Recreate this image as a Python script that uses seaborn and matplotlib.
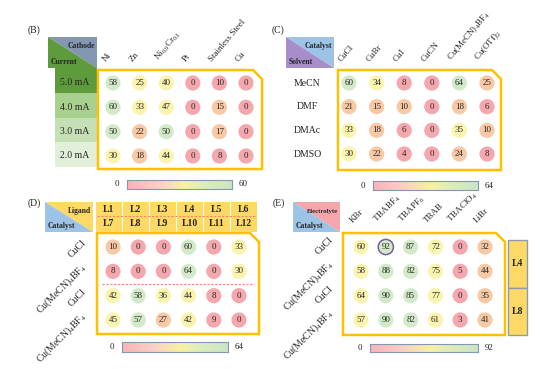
import numpy as np
import pandas as pd
import matplotlib
matplotlib.use("Agg")
import matplotlib.pyplot as plt
import matplotlib.transforms as mtransforms
import seaborn as sns
from matplotlib.colors import LinearSegmentedColormap
from matplotlib.patches import Polygon, Rectangle

# --- Daten ---
B_cols = ["Ni", "Zn", r"Ni$_{0.9}$Cr$_{0.1}$", "Pt", "Stainless Steel", "Cu"]
B_rows = ["5.0 mA", "4.0 mA", "3.0 mA", "2.0 mA"]
B_vals = [[58, 25, 40, 0, 10, 0],
          [60, 33, 47, 0, 15, 0],
          [50, 22, 50, 0, 17, 0],
          [30, 18, 44, 0, 8, 0]]
B_max = 60
B_bins = [11, 24, 49]

C_cols = ["CuCl", "CuBr", "CuI", "CuCN", r"Cu(MeCN)$_4$BF$_4$", r"Cu(OTf)$_2$"]
C_rows = ["MeCN", "DMF", "DMAc", "DMSO"]
C_vals = [[60, 34, 8, 0, 64, 25],
          [21, 15, 10, 0, 18, 6],
          [33, 18, 6, 0, 35, 10],
          [30, 22, 4, 0, 24, 8]]
C_max = 64
C_bins = [9, 28, 50]

D_lig_top = ["L1", "L2", "L3", "L4", "L5", "L6"]
D_lig_bot = ["L7", "L8", "L9", "L10", "L11", "L12"]
D_rows = ["CuCl", r"Cu(MeCN)$_4$BF$_4$", "CuCl", r"Cu(MeCN)$_4$BF$_4$"]
D_vals = [[10, 0, 0, 60, 0, 33],
          [8, 0, 0, 64, 0, 30],
          [42, 58, 36, 44, 8, 0],
          [45, 57, 27, 42, 9, 0]]
D_max = 64
D_bins = [9.5, 28, 50]

E_cols = ["KBr", r"TBABF$_4$", r"TBAPF$_6$", "TBAB", r"TBAClO$_4$", "LiBr"]
E_rows = ["CuCl", r"Cu(MeCN)$_4$BF$_4$", "CuCl", r"Cu(MeCN)$_4$BF$_4$"]
E_vals = [[60, 92, 87, 72, 0, 32],
          [58, 88, 82, 75, 5, 44],
          [64, 90, 85, 77, 0, 35],
          [57, 90, 82, 61, 3, 41]]
E_max = 92
E_bins = [20, 50, 80]
E_groups = ["L4", "L8"]

# --- Stil ---
LEVELS = ["low", "mid", "high", "top"]
LEVEL_COLORS = {"low": "#f5a7ae", "mid": "#f9c8a4", "high": "#fbf4ae", "top": "#d3eac9"}
CBAR = LinearSegmentedColormap.from_list(
    "cb", [(0, "#f9b3b9"), (0.3, "#fbcfc4"), (0.55, "#f8f1a3"), (0.75, "#dcecbd"), (1, "#cbe5c4")])
GOLD = "#ffc000"
TXT = "#262626"

sns.set_theme(style="white")
plt.rcParams["font.family"] = ["Liberation Serif", "DejaVu Serif"]
plt.rcParams["mathtext.default"] = "regular"

W, H = 540, 369
fig = plt.figure(figsize=(W / 100, H / 100), dpi=100)


def frac(x0, y0, x1, y1):
    return [x0 / W, 1 - y1 / H, (x1 - x0) / W, (y1 - y0) / H]


deco = fig.add_axes([0, 0, 1, 1], zorder=0)
deco.set_xlim(0, W)
deco.set_ylim(H, 0)
deco.axis("off")


def draw_grid(box, cols_px, rows_px, vals, bins, highlight=False):
    ax = fig.add_axes(frac(*box), zorder=2)
    arr = np.array(vals)
    nr, nc = arr.shape
    df = pd.DataFrame({
        "row": np.repeat(np.arange(nr), nc),
        "col": np.tile(np.arange(nc), nr),
        "val": arr.ravel(),
    })
    df["level"] = [LEVELS[i] for i in np.digitize(df["val"], bins)]
    sns.scatterplot(data=df, x="col", y="row", hue="level", hue_order=LEVELS,
                    palette=LEVEL_COLORS, s=120, edgecolor="none", legend=False,
                    ax=ax, clip_on=False)
    for r in df.itertuples():
        ax.text(r.col, r.row, f"{int(r.val)}", ha="center", va="center",
                fontsize=6.5, color=TXT)
    if highlight:
        # bestes Ergebnis umrandet
        best = df.loc[df["val"].idxmax()]
        ax.scatter([best["col"]], [best["row"]], s=120, facecolor="none",
                   edgecolor="#7a5aa6", linewidth=1.1, clip_on=False)
    dx = (cols_px[1] - cols_px[0]) / (nc - 1)
    dy = (rows_px[1] - rows_px[0]) / (nr - 1)
    ax.set_xlim((box[0] - cols_px[0]) / dx, (box[2] - cols_px[0]) / dx)
    ax.set_ylim((box[3] - rows_px[0]) / dy, (box[1] - rows_px[0]) / dy)
    # Rahmen mit abgeschnittener Ecke
    cx = 9 / (box[2] - box[0])
    cy = 9 / (box[3] - box[1])
    ax.add_patch(Polygon([(0, 0), (1, 0), (1, 1 - cy), (1 - cx, 1), (0, 1)], closed=True,
                         fill=False, edgecolor=GOLD, linewidth=1.8,
                         transform=ax.transAxes, clip_on=False))
    ax.axis("off")
    return ax


def col_labels(ax, labels, rot, off):
    for i, lab in enumerate(labels):
        ax.annotate(lab, xy=(i, 1), xycoords=("data", "axes fraction"), xytext=off,
                    textcoords="offset points", rotation=rot, rotation_mode="anchor",
                    ha="left", va="bottom", fontsize=6.5, color=TXT)


def row_labels(ax, labels, off, rot=0, ha="center"):
    for i, lab in enumerate(labels):
        ax.annotate(lab, xy=(0, i), xycoords=("axes fraction", "data"), xytext=off,
                    textcoords="offset points", rotation=rot, rotation_mode="anchor",
                    ha=ha, va="center", fontsize=7, color=TXT)


def header(box, c_up, c_low, t_up, t_low, fs_up=5.5):
    x0, y0, x1, y1 = box
    deco.add_patch(Polygon([(x0, y0), (x1, y0), (x1, y1)], color=c_up, lw=0))
    deco.add_patch(Polygon([(x0, y0), (x0, y1), (x1, y1)], color=c_low, lw=0))
    deco.text(x1 - 2, y0 + 9, t_up, ha="right", va="center", fontweight="bold",
              fontsize=fs_up, color=TXT)
    deco.text(x0 + 3, y1 - 6, t_low, ha="left", va="center", fontweight="bold",
              fontsize=5.5, color=TXT)


def cbar(rect, vmax):
    cax = fig.add_axes(frac(*rect), zorder=2)
    cax.imshow(np.linspace(0, vmax, 256)[None, :], aspect="auto", cmap=CBAR,
               extent=[0, vmax, 0, 1])
    cax.set_xticks([])
    cax.set_yticks([])
    for s in cax.spines.values():
        s.set_visible(True)
        s.set_color("#8497b0")
        s.set_linewidth(0.8)
    cax.annotate("0", xy=(0, 0.5), xycoords="axes fraction", xytext=(-6, 0),
                 textcoords="offset points", ha="right", va="center", fontsize=6.5, color=TXT)
    cax.annotate(str(vmax), xy=(1, 0.5), xycoords="axes fraction", xytext=(5, 0),
                 textcoords="offset points", ha="left", va="center", fontsize=6.5, color=TXT)


for lab, xy in [("(B)", (28, 30)), ("(C)", (272, 30)), ("(D)", (28, 203)), ("(E)", (273, 203))]:
    deco.text(*xy, lab, ha="left", va="center", fontsize=7, color=TXT)

# --- (B) Kathode vs. Strom ---
header((48, 37, 97, 68), "#8497b0", "#5e9b3c", "Cathode", "Current")
green_steps = ["#5e9b3c", "#a9d18e", "#c5e0b4", "#e2f0d9"]
for i, c in enumerate(green_steps):
    deco.add_patch(Rectangle((55, 68 + i * 24.8), 42, 24.8, color=c, lw=0))
axB = draw_grid((98, 70, 262, 169), (113, 246), (83, 156), B_vals, B_bins)
col_labels(axB, B_cols, 50, (-4, 5))
row_labels(axB, B_rows, (-17, 0))
cbar((127, 180, 232, 189), B_max)

# --- (C) Katalysator vs. Lösungsmittel ---
header((286, 37, 334, 68), "#9dc3e6", "#a78dca", "Catalyst", "Solvent")
axC = draw_grid((338, 70, 501, 170), (349, 487), (83, 154), C_vals, C_bins)
col_labels(axC, C_cols, 50, (-4, 5))
row_labels(axC, C_rows, (-22, 0))
cbar((373, 181, 478, 190), C_max)

# --- (D) Ligand vs. Katalysator ---
header((45, 202, 93, 232), "#ffd966", "#9dc3e6", "Ligand", "Catalyst")
axD = draw_grid((97, 233, 259, 334), (113, 239), (247, 320), D_vals, D_bins)
row_labels(axD, D_rows, (-9, 4), rot=45, ha="right")
n = len(D_lig_top)
for i in range(n):
    x0 = (i + 0.02) / n - 0.01
    axD.add_patch(Rectangle((x0, 1.012), 0.96 / n, 0.295, color="#ffd966", lw=0,
                            transform=axD.transAxes, clip_on=False))
    axD.text((i + 0.5) / n - 0.01, 1.235, D_lig_top[i], transform=axD.transAxes,
             ha="center", va="center", fontsize=7, fontweight="bold", color=TXT)
    axD.text((i + 0.5) / n - 0.01, 1.09, D_lig_bot[i], transform=axD.transAxes,
             ha="center", va="center", fontsize=7, fontweight="bold", color=TXT)
axD.plot([0.0, 0.98], [1.165, 1.165], transform=axD.transAxes, color="#f0866a",
         lw=0.8, ls=(0, (2, 1.5)), clip_on=False)
mid = len(D_rows) / 2 - 0.5
bt = mtransforms.blended_transform_factory(axD.transAxes, axD.transData)
axD.plot([0.03, 0.97], [mid, mid], transform=bt, color="#f0866a", lw=0.8,
         ls=(0, (2, 1.5)), clip_on=False)
cbar((122, 342, 228, 352), D_max)

# --- (E) Elektrolyt vs. Katalysator ---
header((293, 202, 340, 232), "#f4a6ab", "#9dc3e6", "Electrolyte", "Catalyst", fs_up=4.8)
axE = draw_grid((343, 233, 505, 335), (361, 485), (247, 320), E_vals, E_bins, highlight=True)
col_labels(axE, E_cols, 45, (-5, 6))
row_labels(axE, E_rows, (-8, 6), rot=45, ha="right")
bt = mtransforms.blended_transform_factory(axE.transAxes, axE.transData)
for g, lab in enumerate(E_groups):
    y0 = -0.28 + 1.95 * g
    axE.add_patch(Rectangle((1.02, y0), 0.118, 1.95, facecolor="#ffd966",
                            edgecolor="#8c9aae", lw=1.0, transform=bt, clip_on=False))
    axE.text(1.079, y0 + 0.975, lab, transform=bt, ha="center", va="center",
             fontsize=7, fontweight="bold", color=TXT)
cbar((370, 344, 478, 352), E_max)

fig.savefig("out.png", dpi=100)
